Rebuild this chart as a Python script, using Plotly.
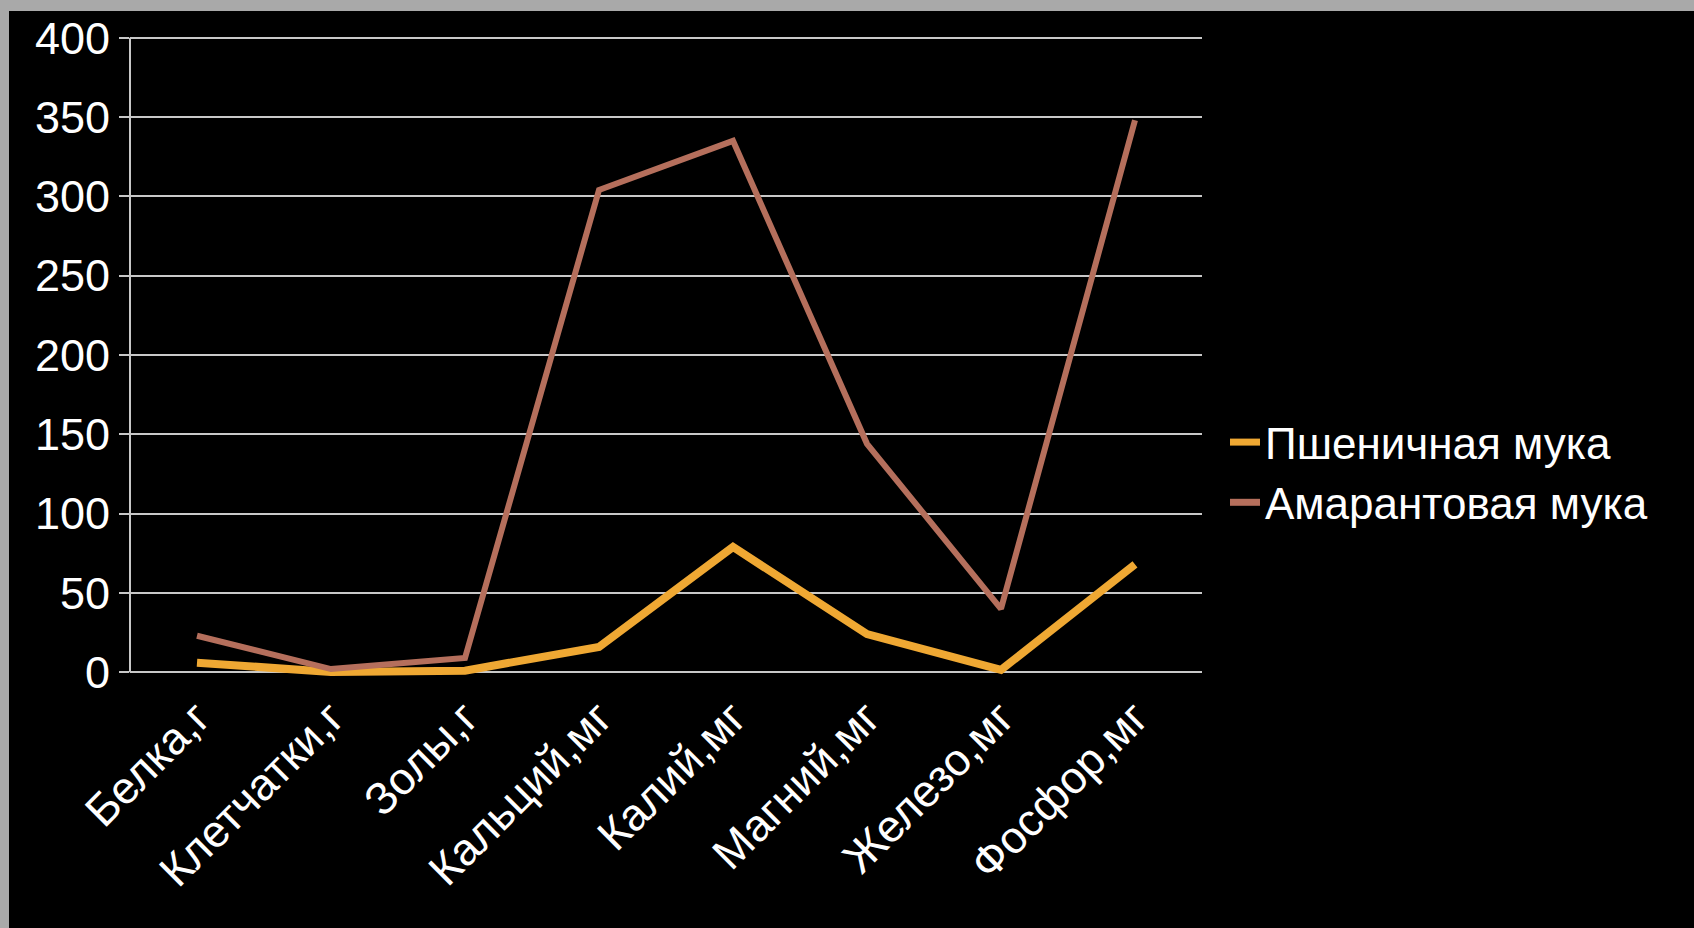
import plotly.graph_objects as go

categories = ["Белка,г", "Клетчатки,г", "Золы,г", "Кальций,мг", "Калий,мг", "Магний,мг", "Железо,мг", "Фосфор,мг"]
wheat = [6, 0.2, 1, 16, 79, 24, 1.5, 68]
amaranth = [23, 2, 9, 304, 335, 144, 40, 348]
y_ticks = [0, 50, 100, 150, 200, 250, 300, 350, 400]
series_names = ["Пшеничная мука", "Амарантовая мука"]
series_colors = ["#EFA833", "#B56F5C"]

FONT = "Liberation Sans, Arial, sans-serif"
W, H = 1694, 928
L, R, T, B = 130, 492, 33, 251
GRID = "#c8c8c8"

fig = go.Figure()
fig.add_trace(go.Scatter(x=categories, y=wheat, name=series_names[0], mode="lines", showlegend=False,
                         line=dict(color=series_colors[0], width=8)))
fig.add_trace(go.Scatter(x=categories, y=amaranth, name=series_names[1], mode="lines", showlegend=False,
                         line=dict(color=series_colors[1], width=6)))
# legend entries (short thick swatches)
for nm, col in zip(series_names, series_colors):
    fig.add_trace(go.Scatter(x=[categories[0]], y=[None], name=nm, mode="lines",
                             line=dict(color=col, width=7)))

pw, ph = W - L - R, H - T - B
fig.add_shape(type="rect", xref="paper", yref="paper", x0=-L / pw, x1=(W - L) / pw,
              y0=1 + (T - 11) / ph, y1=1 + T / ph, fillcolor="#a9a9a9", line_width=0, layer="below")
fig.add_shape(type="rect", xref="paper", yref="paper", x0=-L / pw, x1=(9 - L) / pw,
              y0=-B / ph, y1=1 + T / ph, fillcolor="#a9a9a9", line_width=0, layer="below")
# vertical axis line from 0 to 400
fig.add_shape(type="line", xref="paper", yref="y", x0=0, x1=0, y0=y_ticks[0], y1=y_ticks[-1],
              line=dict(color=GRID, width=2), layer="below")

fig.update_layout(
    width=W, height=H,
    margin=dict(l=L, r=R, t=T, b=B, pad=0),
    paper_bgcolor="black", plot_bgcolor="black",
    font=dict(family=FONT, color="white", size=45),
    showlegend=True,
    legend=dict(xref="container", yref="container", x=1225 / W, y=1 - 407 / H,
                xanchor="left", yanchor="top", bgcolor="rgba(0,0,0,0)",
                font=dict(size=44, color="white"), tracegroupgap=0),
    xaxis=dict(type="category", range=[-0.5, 7.5], showgrid=False, zeroline=False,
               showline=False, ticks="", tickangle=-45, tickfont=dict(size=45, color="white"),
               ticklabelstandoff=4),
    yaxis=dict(range=[-3, 403], tickvals=y_ticks, showgrid=True, gridcolor=GRID, gridwidth=2,
               zeroline=False, showline=False,
               ticks="outside", ticklen=10, tickwidth=2, tickcolor=GRID,
               tickfont=dict(size=45, color="white"), ticklabelstandoff=0),
)
fig.write_html("out.html")
